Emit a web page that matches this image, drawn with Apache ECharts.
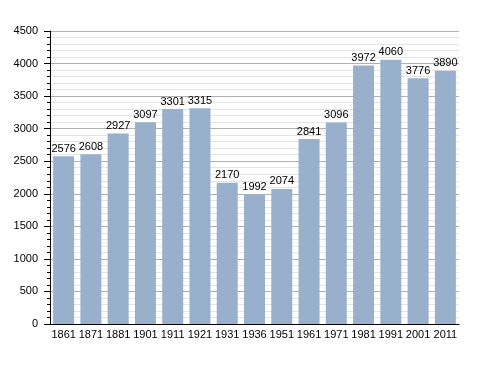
<!DOCTYPE html>
<html><head><meta charset="utf-8">
<script src="https://cdn.jsdelivr.net/npm/echarts@6/dist/echarts.min.js"></script>
<style>html,body{margin:0;padding:0;background:#fff}#c{width:488px;height:373px}</style>
</head><body><div id="c"></div>
<script>
const categories = ['1861','1871','1881','1901','1911','1921','1931','1936','1951','1961','1971','1981','1991','2001','2011'];
const population = [2576,2608,2927,3097,3301,3315,2170,1992,2074,2841,3096,3972,4060,3776,3890];
const yTicks = [0,500,1000,1500,2000,2500,3000,3500,4000,4500];

const chart = echarts.init(document.getElementById('c'), null, {renderer:'canvas'});
chart.setOption({
  animation:false,
  grid:{left:50,right:29,top:31,bottom:49},
  xAxis:{type:'category',data:categories,
    axisLine:{lineStyle:{color:'#000',width:1}},
    axisTick:{show:false},
    axisLabel:{color:'#000',fontFamily:'Liberation Sans, Arial',fontSize:11,margin:5,interval:0}
  },
  yAxis:{type:'value',min:yTicks[0],max:yTicks[yTicks.length-1],interval:500,
    axisLine:{show:true,lineStyle:{color:'#000',width:1}},
    axisTick:{show:true,length:6,lineStyle:{color:'#000'}},
    minorTick:{show:true,splitNumber:5,length:3,lineStyle:{color:'#000'}},
    splitLine:{show:true,lineStyle:{color:'#b0b0b0',width:1}},
    minorSplitLine:{show:true,lineStyle:{color:'#e4e4e4',width:1}},
    axisLabel:{color:'#000',fontFamily:'Liberation Sans, Arial',fontSize:11,margin:12,formatter:v=>String(v)}
  },
  series:[{type:'bar',data:population,barWidth:21,
    itemStyle:{color:'#98b0cc'},
    label:{show:true,position:'top',distance:2,color:'#000',fontFamily:'Liberation Sans, Arial',fontSize:11}
  }]
});
</script></body></html>
